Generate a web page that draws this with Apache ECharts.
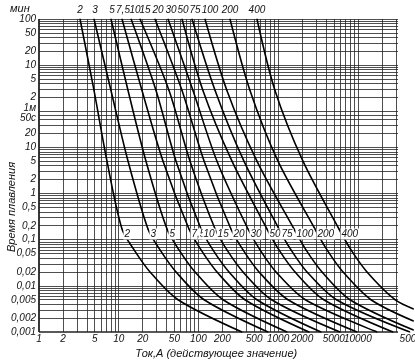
<!DOCTYPE html>
<html><head><meta charset="utf-8">
<script src="https://cdn.jsdelivr.net/npm/echarts@6/dist/echarts.min.js"></script>
<style>html,body{margin:0;padding:0;background:#fff}#c{width:415px;height:360px}</style>
</head><body><div id="c"></div>
<script>
// Fuse ratings (A)
const ratings = ['2','3','5','7,5','10','15','20','30','50','75','100','200','400'];
// Each curve: [current A, melting time s]
const curve_2   = [[3.27,6000],[4.90,170],[7.13,5],[11.0,0.17],[15.6,0.06],[24.7,0.02],[55.5,0.005],[352,0.001]];
const curve_3   = [[4.90,6000],[8.0,170],[13.1,5],[23.3,0.17],[33.0,0.06],[52.4,0.02],[118,0.005],[747,0.001]];
const curve_5   = [[8.0,6000],[13.1,170],[22.0,5],[40.4,0.17],[57.1,0.06],[90.6,0.02],[204,0.005],[1294,0.001]];
const curve_7_5 = [[11.0,6000],[19.6,170],[36.0,5],[76.2,0.17],[108,0.06],[171,0.02],[384,0.005],[2442,0.001]];
const curve_10  = [[14.3,6000],[29.4,170],[52.4,5],[108,0.17],[152,0.06],[242,0.02],[543,0.005],[3454,0.001]];
const curve_15  = [[18.5,6000],[42.8,170],[78.5,5],[162,0.17],[228,0.06],[363,0.02],[830,0.005],[5980,0.001]];
const curve_20  = [[28.5,6000],[62.3,170],[118,5],[256,0.17],[363,0.06],[576,0.02],[1330,0.005],[9770,0.001]];
const curve_30  = [[41.6,6000],[85.5,170],[171,5],[419,0.17],[593,0.06],[941,0.02],[2200,0.005],[17400,0.001]];
const curve_50  = [[62.3,6000],[114,170],[264,5],[726,0.17],[1026,0.06],[1630,0.02],[3750,0.005],[27600,0.001]];
const curve_75  = [[83.1,6000],[162,170],[373,5],[1026,0.17],[1452,0.06],[2305,0.02],[5400,0.005],[45000,0.001]];
const curve_100 = [[121,6000],[228,170],[543,5],[1584,0.17],[2239,0.06],[3554,0.02],[7980,0.005],[50000,0.0011]];
const curve_200 = [[249,6000],[444,170],[997,5],[2904,0.17],[4110,0.06],[6520,0.02],[14650,0.005],[50000,0.00173]];
const curve_400 = [[543,6000],[914,170],[2052,5],[5808,0.17],[8222,0.06],[13040,0.02],[29300,0.005],[50000,0.00316]];
const curves = [curve_2,curve_3,curve_5,curve_7_5,curve_10,curve_15,curve_20,curve_30,curve_50,curve_75,curve_100,curve_200,curve_400];

const xTickValues = [1,2,5,10,20,50,100,200,500,1000,2000,5000,10000,50000];
const yTickValues = [6000,3000,1200,600,300,120,60,50,20,10,5,2,1,0.5,0.2,0.1,0.05,0.02,0.01,0.005,0.002,0.001];
const yTickLabels = ['100','50','20','10','5','2','1м','50с','20','10','5','2','1','0,5','0,2','0,1','0,05','0,02','0,01','0,005','0,002','0,001'];

const FONT = '"Liberation Sans", Arial, sans-serif';
const INK = '#111';
const topLabelShift = [0,1,1,1,4,5,3,3,1,3,5,0,0];

const X_MIN = 1, X_MAX = 50000, X_GRID_END = 32000, Y_MIN = 0.001, Y_MAX = 6000;

// log-paper grid lines
const vLines = [];
for (let k = 0; k <= 4; k++) for (let m = 1; m <= 9; m++) { const v = m * Math.pow(10, k); if (v <= 30000) vLines.push(v); }
const hLines = [];
for (let k = -3; k <= 1; k++) for (let m = 1; m <= 9; m++) { const v = +(m * Math.pow(10, k)).toPrecision(3); if (v < 60) hLines.push(v); }
for (let m = 1; m <= 9; m++) hLines.push(m * 60);
for (let m = 1; m <= 10; m++) hLines.push(m * 600);
const gridMarks = [];
vLines.forEach(v => gridMarks.push([{coord:[v, Y_MIN], lineStyle:{type:'solid', width: v === 1 ? 1.8 : 0.8, color:'#222'}}, {coord:[v, Y_MAX]}]));
hLines.forEach(v => gridMarks.push([{coord:[X_MIN, v], lineStyle:{type:'solid', width: v === 0.001 ? 1.6 : 0.8, color:'#222'}}, {coord:[X_GRID_END, v]}]));

const labelFont = {fontFamily: FONT, fontStyle:'italic', fontSize:10, color: INK};

const series = curves.map((c, i) => ({
  type:'line',
  name: ratings[i],
  data: c.map((p, j) => {
    if (j === 0) return {value:p, label:Object.assign({show:true, position:'top', distance:3, offset:[topLabelShift[i],0], formatter: ratings[i]}, labelFont)};
    if (j === 3) return {value:p, label:Object.assign({show:true, position:'right', distance:1, offset:[0,5], formatter: ratings[i], backgroundColor:'#fff', padding:[1,1,0,1]}, labelFont)};
    return p;
  }),
  smooth: 0.3,
  symbol:'circle', symbolSize:1, showSymbol:true,
  itemStyle:{color:'#000'},
  lineStyle:{color:'#000', width:1.6},
  silent:true, clip:true, z:3,
  markLine: i === 0 ? {silent:true, symbol:['none','none'], label:{show:false}, animation:false, z:1,
    lineStyle:{type:'solid', color:'#222', width:0.8}, data: gridMarks} : undefined
}));

const chart = echarts.init(document.getElementById('c'), null, {renderer:'canvas'});
chart.setOption({
  animation:false,
  backgroundColor:'#fff',
  grid:{left:39, right:1.5, top:19, bottom:28, containLabel:false, outerBoundsMode:'none'},
  graphic:[
    {type:'text', left:10, top:3, style:{text:'мин', font:'italic 11px ' + FONT, fill: INK}},
    {type:'text', x:12, y:207, rotation:Math.PI/2, style:{text:'Время плавления', font:'italic 11px ' + FONT, fill: INK, align:'center', verticalAlign:'middle'}}
  ],
  xAxis:{
    type:'log', logBase:10, min:X_MIN, max:X_MAX,
    axisLine:{show:false}, axisTick:{show:false}, splitLine:{show:false}, minorSplitLine:{show:false},
    axisLabel:Object.assign({customValues:xTickValues, margin:2, alignMaxLabel:'center', alignMinLabel:'center', hideOverlap:false,
      formatter: v => String(Math.round(v))}, labelFont),
    name:'Ток,А (действующее значение)', nameLocation:'middle', nameGap:14,
    nameTextStyle:{fontFamily:FONT, fontStyle:'italic', fontSize:11, color:INK, padding:[0,20,0,0]}
  },
  yAxis:{
    type:'log', logBase:10, min:Y_MIN, max:Y_MAX,
    axisLine:{show:false}, axisTick:{show:false}, splitLine:{show:false},
    axisLabel:Object.assign({customValues:yTickValues, margin:3, hideOverlap:false,
      formatter: v => { const i = yTickValues.findIndex(t => Math.abs(Math.log10(t) - Math.log10(v)) < 1e-6); const s = i >= 0 ? yTickLabels[i] : ''; if (s === '1м') return '{u|' + s + '}'; if (s === '50с') return '{d|' + s + '}'; return s; },
      rich:{u:{padding:[0,0,6,0], fontFamily:FONT, fontStyle:'italic', fontSize:10, color:INK}, d:{padding:[6,0,0,0], fontFamily:FONT, fontStyle:'italic', fontSize:10, color:INK}}
    }, labelFont)
  },
  series: series
});
</script></body></html>
